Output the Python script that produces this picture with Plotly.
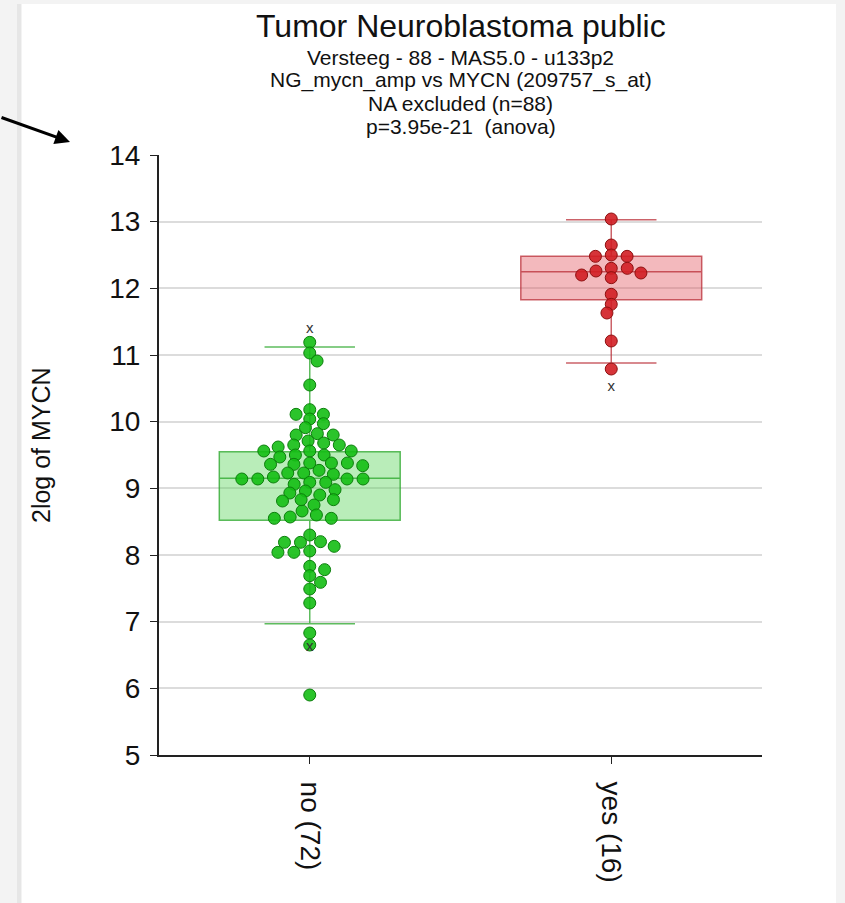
import math
import plotly.graph_objects as go

# ---------------- data ----------------
categories = ["no (72)", "yes (16)"]

no_values = [
    11.19, 11.03, 10.91, 10.55,
    10.18, 10.11, 10.04, 10.11, 9.97,
    9.91, 9.82, 9.71, 9.62, 9.47, 9.34, 9.21, 9.06, 8.93, 8.81, 8.66, 8.57,
    9.80, 9.80, 9.65, 9.68, 9.65, 9.56, 9.56, 9.50, 9.56, 9.50, 9.38, 9.36,
    9.38, 9.36, 9.38, 9.23, 9.23, 9.27, 9.14, 9.14, 9.17, 9.14, 9.14, 9.09, 9.09,
    8.98, 8.90, 8.96, 8.83, 8.75, 8.83, 8.60, 8.55, 8.55,
    8.30, 8.20, 8.13, 8.19, 8.04, 8.06, 8.19, 8.04,
    7.83, 7.69, 7.78, 7.59, 7.49, 7.28, 6.83, 6.65, 5.90,
]
yes_values = [13.04, 12.65, 12.48, 12.50, 12.48, 12.30, 12.30, 12.26, 12.20,
              12.23, 12.16, 11.91, 11.76, 11.63, 11.21, 10.79]

# box statistics (as drawn in the reference)
box_q1 = [8.52, 11.83]
box_median = [9.15, 12.25]
box_q3 = [9.55, 12.48]
box_lower = [6.97, 10.88]
box_upper = [11.12, 13.03]

# "x" marks
mark_cat = [0, 0, 1]
mark_val = [11.38, 6.62, 10.52]

y_ticks = [5, 6, 7, 8, 9, 10, 11, 12, 13, 14]

title = "Tumor Neuroblastoma public"
subtitles = ["Versteeg - 88 - MAS5.0 - u133p2",
             "NG_mycn_amp vs MYCN (209757_s_at)",
             "NA excluded (n=88)",
             "p=3.95e-21  (anova)"]
y_title = "2log of MYCN"

# ---------------- layout constants ----------------
W, H = 845, 903
ML, MR, MT, MB = 159, 83, 155, 148
PW, PH = W - ML - MR, H - MT - MB
XR = [-0.5, 1.5]
YR = [5, 14]
kx = PW / (XR[1] - XR[0])
ky = PH / (YR[1] - YR[0])


def swarm(vals, dx=16.0, dy=9.0):
    """Beeswarm offsets (x-axis units) computed from values in pixel space."""
    placed = []
    offs = [0.0] * len(vals)
    order = sorted(range(len(vals)), key=lambda i: -vals[i])
    for n, i in enumerate(order):
        y = vals[i] * ky
        cands = [0.0]
        ints = []
        for xj, yj in placed:
            d = abs(y - yj)
            if d < dy:
                w = dx * math.sqrt(1 - (d / dy) ** 2)
                ints.append((xj - w, xj + w))
                cands += [xj - w, xj + w]
        valid = [c for c in cands
                 if all(not (a + 1e-6 < c < b - 1e-6) for a, b in ints)]
        best = min(valid, key=lambda c: (round(abs(c), 4), c if n % 2 else -c))
        placed.append((best, y))
        offs[i] = best / kx
    return offs


fig = go.Figure()

box_style = [
    dict(fill="rgba(80,210,80,0.40)", line="rgba(40,165,40,0.75)"),
    dict(fill="rgba(225,80,90,0.40)", line="rgba(185,45,55,0.75)"),
]
for i in range(2):
    fig.add_trace(go.Box(
        x=[i], q1=[box_q1[i]], median=[box_median[i]], q3=[box_q3[i]],
        lowerfence=[box_lower[i]], upperfence=[box_upper[i]],
        width=0.6, whiskerwidth=0.5, boxpoints=False,
        fillcolor=box_style[i]["fill"],
        line=dict(color=box_style[i]["line"], width=1.5),
        showlegend=False, hoverinfo="skip"))

dot_style = [
    dict(fill="rgba(20,190,20,0.9)", line="#0c7f0c"),
    dict(fill="rgba(210,30,35,0.9)", line="#8e1010"),
]
for i, vals in enumerate([no_values, yes_values]):
    offs = swarm(vals)
    fig.add_trace(go.Scatter(
        x=[i + o for o in offs], y=vals, mode="markers",
        marker=dict(size=12, color=dot_style[i]["fill"],
                    line=dict(color=dot_style[i]["line"], width=1)),
        showlegend=False))

fig.add_trace(go.Scatter(
    x=mark_cat, y=mark_val, mode="text", text=["x"] * len(mark_val),
    textfont=dict(family="Liberation Sans, Arial", size=15, color="#333"),
    showlegend=False))

# background card with shadow
shapes = [
    dict(type="rect", xref="paper", yref="paper",
         x0=(22 - ML) / PW, x1=(836 - ML) / PW,
         y0=(H - MB - 905) / PH, y1=(H - MB - 4) / PH,
         fillcolor="white", line=dict(width=0), layer="below"),
    dict(type="line", xref="paper", yref="paper",
         x0=(19 - ML) / PW, x1=(19 - ML) / PW,
         y0=(H - MB - 905) / PH, y1=(H - MB - 4) / PH,
         line=dict(color="#e6e6e6", width=4), layer="below"),
]

annotations = [
    dict(text=title, x=0.5, xref="paper", y=(H - MB - 26) / PH, yref="paper",
         showarrow=False, font=dict(size=32, color="#111"), yanchor="middle"),
]
for k, s in enumerate(subtitles):
    annotations.append(dict(
        text=s, x=0.5, xref="paper", y=(H - MB - (57 + 23 * k)) / PH,
        yref="paper", showarrow=False, yanchor="middle",
        font=dict(size=21, color="#111")))
annotations.append(dict(
    text=y_title, textangle=-90, x=(41 - ML) / PW, xref="paper",
    y=(H - MB - 445) / PH, yref="paper", showarrow=False,
    xanchor="center", yanchor="middle", font=dict(size=25, color="#111")))
annotations.append(dict(
    text="", x=(70 - ML) / PW, xref="paper", y=(H - MB - 142) / PH,
    yref="paper", showarrow=True, ax=-72, ay=-25, arrowhead=2,
    arrowsize=1, arrowwidth=3, arrowcolor="black"))

fig.update_layout(
    width=W, height=H,
    margin=dict(l=ML, r=MR, t=MT, b=MB, pad=0),
    paper_bgcolor="#f3f3f3", plot_bgcolor="rgba(0,0,0,0)",
    font=dict(family="Liberation Sans, Arial", color="#111"),
    shapes=shapes, annotations=annotations,
    xaxis=dict(range=XR, tickmode="array", tickvals=[0, 1], ticktext=categories,
               tickangle=90, showgrid=False, zeroline=False,
               showline=True, linecolor="#222", linewidth=2,
               ticks="outside", ticklen=7, tickcolor="#222",
               tickfont=dict(size=28), ticklabelstandoff=12),
    yaxis=dict(range=YR, tickvals=y_ticks, showgrid=True, gridcolor="#dcdcdc",
               gridwidth=1.5, zeroline=False, showline=True, linecolor="#222",
               linewidth=2, ticks="outside", ticklen=7, tickcolor="#222",
               tickfont=dict(size=28), ticklabelstandoff=4),
)

fig.write_html(
    "out.html",
    config={"displayModeBar": False},
    post_script="document.body.style.margin='0';"
                "document.body.style.overflow='hidden';",
)
